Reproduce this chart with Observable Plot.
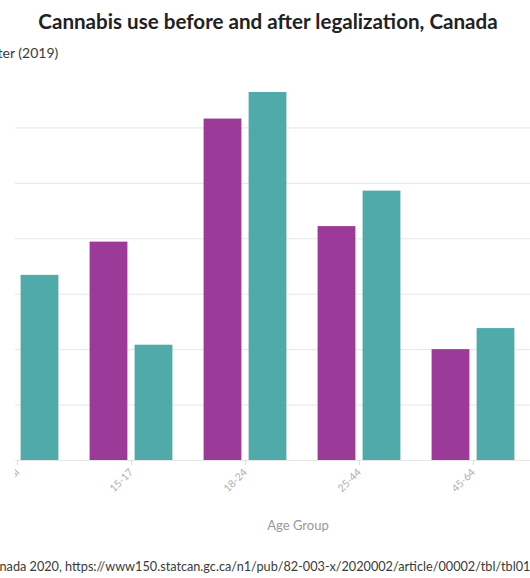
<!DOCTYPE html>
<html>
<head>
<meta charset="utf-8">
<script src="https://cdn.jsdelivr.net/npm/d3@7"></script>
<script src="https://cdn.jsdelivr.net/npm/@observablehq/plot@0.6"></script>
<style>
  body { margin: 0; background: #fff; }
  #chart { position: relative; width: 530px; height: 578px; overflow: hidden; font-family: Lato, "Noto Sans", sans-serif; }
  #title { position: absolute; top: 7px; left: 0; width: 536px; text-align: center; font-weight: 700; font-size: 20.6px; line-height: 28px; color: #222; white-space: nowrap; }
  #legend { position: absolute; top: 45px; left: 0; white-space: nowrap; font-size: 14px; line-height: 16px; color: #3a3a3a; }
  #legend .sw { display: inline-block; width: 13px; height: 13px; margin: 0 5px 0 14px; vertical-align: -2px; }
  #plotwrap { position: absolute; left: 15px; top: 61px; width: 515px; height: 478px; overflow: hidden; }
  #plotwrap svg { position: absolute; left: -96.2px; top: 0; max-width: none !important; width: 745px !important; height: 478px !important; }
  #source { position: absolute; top: 559px; left: 0; white-space: nowrap; font-size: 12.7px; line-height: 14px; color: #3a3a3a; }
</style>
</head>
<body>
<div id="chart">
  <div id="title">Cannabis use before and after legalization, Canada</div>
  <div id="legend"></div>
  <div id="plotwrap"></div>
  <div id="source">Source: Statistics Ca<span class="tail">nada 2020, https://www150.statcan.gc.ca/n1/pub/82-003-x/2020002/article/00002/tbl/tbl01-eng.htm</span></div>
</div>
<script>
// Age groups on the x axis (65+ sits past the right edge of the view)
const ageGroups = ["Total", "15-17", "18-24", "25-44", "45-64", "65+"];
const shownGroups = ["Total", "15-17", "18-24", "25-44", "45-64"];
// Percent who used cannabis in the past three months
const before2018 = [14.9, 19.7, 30.8, 21.1, 10.0];
const after2019 = [16.7, 10.4, 33.2, 24.3, 11.9];
const yTicks = [0, 5, 10, 15, 20, 25, 30];
const seriesNames = ["Before (2018)", "After (2019)"];
const seriesColors = ["#9c3a99", "#4faaa9"];

const rows = shownGroups.map((age, i) => ({age, before: before2018[i], after: after2019[i]}));

// Legend: two swatches, scrolled so that only the tail of the second entry shows
const legend = document.getElementById("legend");
seriesNames.forEach((name, i) => {
  const sw = document.createElement("span");
  sw.className = "sw";
  sw.style.background = seriesColors[i];
  legend.appendChild(sw);
  if (i === 0) {
    legend.appendChild(document.createTextNode(name));
  } else {
    legend.appendChild(document.createTextNode(name.slice(0, 2)));
    const tail = document.createElement("span");
    tail.className = "tail";
    tail.textContent = name.slice(2);
    legend.appendChild(tail);
  }
});

const chart = Plot.plot({
  width: 745,
  height: 478,
  marginLeft: 40,
  marginRight: 20,
  marginTop: 11,
  marginBottom: 79,
  style: {fontFamily: "Lato, 'Noto Sans', sans-serif", background: "transparent", maxWidth: "none"},
  x: {domain: ageGroups, padding: 0},
  y: {domain: [0, 35]},
  marks: [
    Plot.gridY(yTicks, {stroke: "#e6e6e6", strokeOpacity: 1}),
    Plot.barY(rows, {x: "age", y: "before", fill: seriesColors[0], insetLeft: 15.6, insetRight: 60.6}),
    Plot.barY(rows, {x: "age", y: "after", fill: seriesColors[1], insetLeft: 60.6, insetRight: 15.6}),
    Plot.axisY(yTicks, {tickSize: 0, fill: "#999", fontSize: 11, label: null}),
    Plot.axisX({tickRotate: -45, tickSize: 5, stroke: "#ddd", fill: "#b0b0b0", fontSize: 10.5, tickPadding: 5, label: null}),
    Plot.text(["Age Group"], {frameAnchor: "bottom", dy: 69, dx: -4, fontSize: 13, fill: "#999"})
  ]
});
document.getElementById("plotwrap").appendChild(chart);

// Shift the legend and source lines so the visible tail starts at the left edge
const tailStart = {legend: 2.5, source: -0.5};
function placeTails() {
  const chartLeft = document.getElementById("chart").getBoundingClientRect().left;
  for (const id of ["legend", "source"]) {
    const el = document.getElementById(id);
    el.style.left = "0px";
    const tailLeft = el.querySelector(".tail").getBoundingClientRect().left - chartLeft;
    el.style.left = (tailStart[id] - tailLeft) + "px";
  }
}
placeTails();
if (document.fonts) document.fonts.ready.then(placeTails);
</script>
</body>
</html>
